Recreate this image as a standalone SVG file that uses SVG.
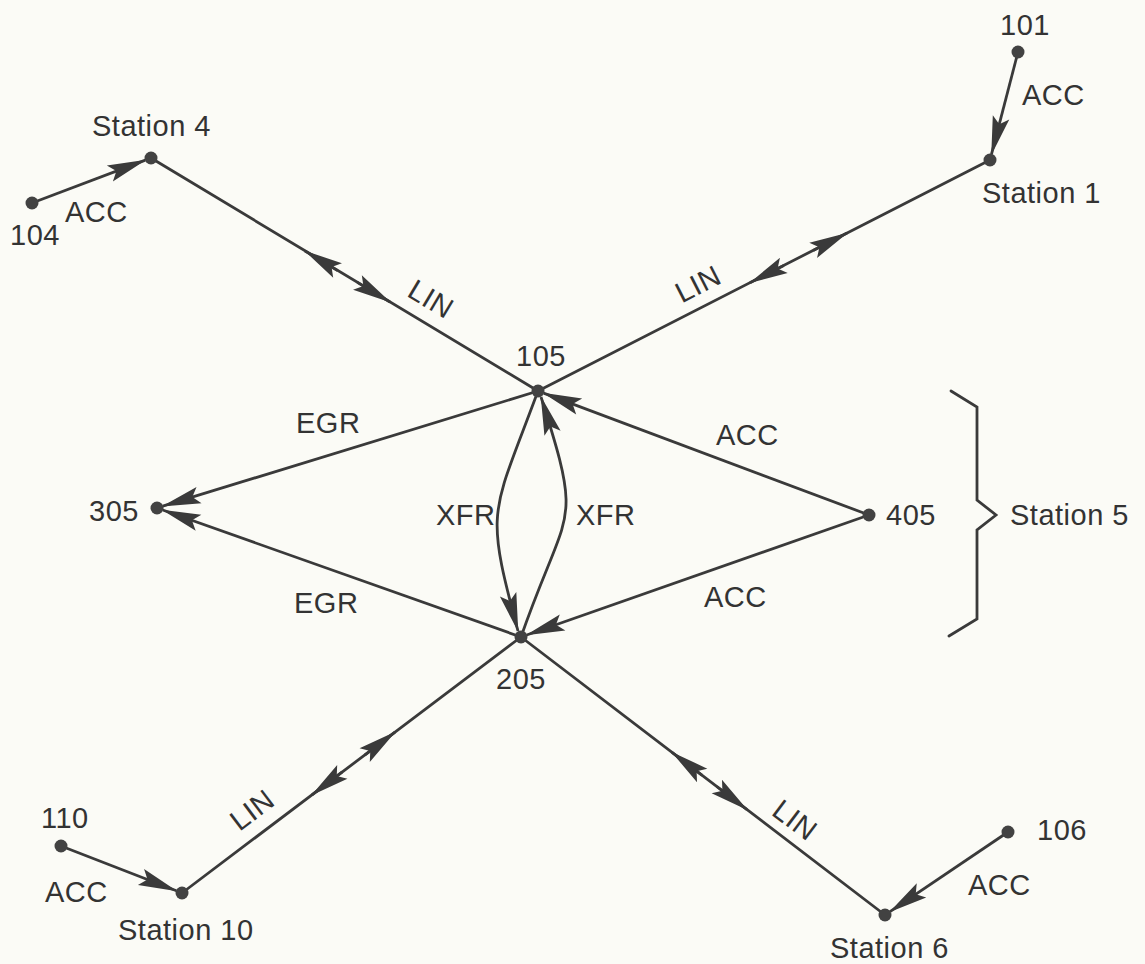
<svg xmlns="http://www.w3.org/2000/svg" width="1145" height="964" viewBox="0 0 1145 964">
<style>
.bg{fill:#fbfbf6}
.ln{fill:none;stroke:#3a3a3a;stroke-width:2.8;stroke-linecap:round}
.ah{fill:none;stroke:#3a3a3a;stroke-width:2.8;marker-end:url(#arr)}
.dot{fill:#424242}
.t{font-family:"Liberation Sans",Arial,sans-serif;font-size:29px;fill:#333;letter-spacing:0.5px}
</style>
<defs>
<marker id="arr" markerUnits="userSpaceOnUse" markerWidth="46" markerHeight="22" viewBox="-42 -11 46 22" refX="0" refY="0" orient="auto">
<path d="M1,0 L-38,-8.5 L-31,0 L-38,8.5 Z" fill="#3a3a3a"/>
</marker>
</defs>
<rect class="bg" x="0" y="0" width="1145" height="964"/>

<g id="connectors">
<!-- ACC feeders -->
<path class="ah" d="M32,203 L145.4,160.1"/>
<path class="ah" d="M1018,52 L991.5,154.2"/>
<path class="ah" d="M61,846 L176.4,890.8"/>
<path class="ah" d="M1008,832 L890,911.6"/>
<!-- LIN Station 4 - 105 -->
<path class="ln" d="M151,158 L538,391"/>
<path class="ah" d="M337.6,270.6 L305,251"/>
<path class="ah" d="M357.4,282.4 L390,302"/>
<!-- LIN Station 1 - 105 -->
<path class="ln" d="M990,160 L538,391"/>
<path class="ah" d="M813.2,250.4 L847,233.1"/>
<path class="ah" d="M783.8,265.4 L750,282.7"/>
<!-- LIN Station 10 - 205 -->
<path class="ln" d="M182,893 L521,637"/>
<path class="ah" d="M342.3,771.9 L312,794.8"/>
<path class="ah" d="M364.7,755.1 L395,732.2"/>
<!-- LIN 205 - Station 6 -->
<path class="ln" d="M521,637 L885,915"/>
<path class="ah" d="M702.2,775.4 L672,752.3"/>
<path class="ah" d="M716.8,786.5 L747,809.6"/>
<!-- ACC 405 -> 105 / 205 -->
<path class="ah" d="M869,515 L543.6,393.1"/>
<path class="ah" d="M869,515 L526.7,635"/>
<!-- EGR -> 305 -->
<path class="ah" d="M538,391 L162.7,506.2"/>
<path class="ah" d="M521,637 L162.7,510"/>
<!-- XFR -->
<path class="ah" d="M538,391 C491.75,516 484.25,506 518,631"/>
<path class="ah" d="M521,637 C568,502 584,532 541,397"/>
<!-- Station 5 brace -->
<path class="ln" d="M951,391 L977,407 L977,500 L996,515 L977,530 L977,619 L949,636"/>
</g>

<g id="n101"><circle class="dot" cx="1018" cy="52" r="6.5"/><text class="t" x="1000" y="35">101</text></g>
<g id="s1"><circle class="dot" cx="990" cy="160" r="6.5"/><text class="t" x="982" y="203">Station 1</text></g>
<g id="s4"><circle class="dot" cx="151" cy="158" r="6.5"/><text class="t" x="92" y="136">Station 4</text></g>
<g id="n104"><circle class="dot" cx="32" cy="203" r="6.5"/><text class="t" x="10" y="245">104</text></g>
<g id="n105"><circle class="dot" cx="538" cy="391" r="6.5"/><text class="t" x="516" y="366">105</text></g>
<g id="n305"><circle class="dot" cx="157" cy="508" r="6.5"/><text class="t" x="89" y="521">305</text></g>
<g id="n405"><circle class="dot" cx="869" cy="515" r="6.5"/><text class="t" x="886" y="525">405</text></g>
<g id="n205"><circle class="dot" cx="521" cy="637" r="6.5"/><text class="t" x="496" y="689">205</text></g>
<g id="n110"><circle class="dot" cx="61" cy="846" r="6.5"/><text class="t" x="41" y="828">110</text></g>
<g id="s10"><circle class="dot" cx="182" cy="893" r="6.5"/><text class="t" x="118" y="940">Station 10</text></g>
<g id="n106"><circle class="dot" cx="1008" cy="832" r="6.5"/><text class="t" x="1037" y="840">106</text></g>
<g id="s6"><circle class="dot" cx="885" cy="915" r="6.5"/><text class="t" x="830" y="958">Station 6</text></g>
<g id="s5"><text class="t" x="1010" y="525">Station 5</text></g>

<g id="labels">
<text class="t" x="1022" y="105">ACC</text>
<text class="t" x="65" y="222">ACC</text>
<text class="t" x="45" y="902">ACC</text>
<text class="t" x="968" y="895">ACC</text>
<text class="t" x="716" y="445">ACC</text>
<text class="t" x="704" y="607">ACC</text>
<text class="t" x="296" y="433">EGR</text>
<text class="t" x="294" y="613">EGR</text>
<text class="t" x="436" y="525">XFR</text>
<text class="t" x="576" y="525">XFR</text>
<text class="t" text-anchor="middle" transform="translate(431,299) rotate(31)" y="10">LIN</text>
<text class="t" text-anchor="middle" transform="translate(698,284) rotate(-27)" y="10">LIN</text>
<text class="t" text-anchor="middle" transform="translate(252,810) rotate(-37)" y="10">LIN</text>
<text class="t" text-anchor="middle" transform="translate(795,820) rotate(37)" y="10">LIN</text>
</g>
</svg>
